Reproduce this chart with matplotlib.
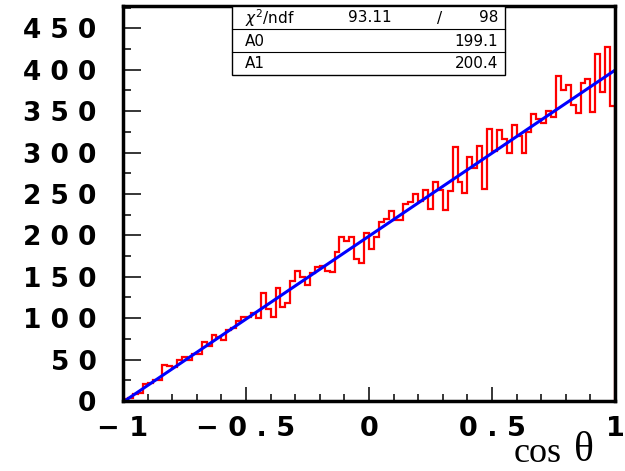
import matplotlib
matplotlib.use("Agg")
import numpy as np
import matplotlib.pyplot as plt
from matplotlib.ticker import MultipleLocator
from matplotlib.patches import Rectangle
from matplotlib.lines import Line2D

# histogram of cos(theta), 100 bins from -1 to 1
x_min, x_max, n_bins = -1.0, 1.0, 100
counts = [
    2, 4, 9, 10, 21, 22, 25, 25, 44, 42,
    41, 50, 53, 50, 57, 57, 71, 67, 80, 77,
    74, 86, 88, 97, 101, 101, 106, 100, 130, 111,
    102, 137, 114, 118, 145, 157, 150, 140, 155, 162,
    163, 157, 156, 180, 198, 193, 198, 172, 167, 203,
    183, 198, 216, 220, 230, 219, 219, 238, 240, 250,
    242, 255, 232, 265, 255, 231, 254, 307, 264, 251,
    295, 281, 308, 256, 328, 302, 327, 316, 300, 333,
    320, 299, 325, 346, 340, 336, 350, 343, 393, 375,
    382, 358, 348, 384, 389, 349, 419, 373, 427, 356,
]

# linear fit result
a0, a1 = 199.1, 200.4
chi2, ndf = 93.11, 98

x_ticks = [-1, -0.5, 0, 0.5, 1]
x_tick_labels = ["-1", "-0.5", "0", "0.5", "1"]
y_ticks = [0, 50, 100, 150, 200, 250, 300, 350, 400, 450]


def spaced(s):
    # wide letter spacing like the old ROOT bold font
    return " ".join(s.replace("-", "\u2212"))


W, H = 625, 471
fig = plt.figure(figsize=(W / 100, H / 100), dpi=100)
ax = fig.add_axes([123 / W, 1 - 401 / H, 492 / W, 395 / H])

edges = np.linspace(x_min, x_max, n_bins + 1)
ax.stairs(counts, edges, baseline=0, color="#ff0000", lw=1.6, zorder=2)
xf = np.array([x_min, x_max])
ax.plot(xf, a0 + a1 * xf, color="#0000ff", lw=2.2, zorder=3)

ax.set_xlim(x_min, x_max)
ax.set_ylim(0, 477)

ax.set_xticks(x_ticks)
ax.set_xticklabels([spaced(s) for s in x_tick_labels],
                   fontsize=19.5, fontweight="bold", family="DejaVu Sans")
ax.set_yticks(y_ticks)
ax.set_yticklabels([spaced(str(v)) for v in y_ticks],
                   fontsize=19, fontweight="bold", family="DejaVu Sans")
ax.xaxis.set_minor_locator(MultipleLocator(0.1))
ax.yaxis.set_minor_locator(MultipleLocator(25))

ax.tick_params(axis="x", which="major", direction="in", length=10, width=1.1, pad=11)
ax.tick_params(axis="x", which="minor", direction="in", length=5, width=1.1)
ax.tick_params(axis="y", which="major", direction="in", length=13, width=1.1, pad=19)
ax.tick_params(axis="y", which="minor", direction="in", length=6, width=1.1)

for side in ["left", "bottom", "right", "top"]:
    ax.spines[side].set_linewidth(2.5)
    ax.spines[side].set_zorder(5)

# x title
fig.text(562 / W, 1 / H, "cos", fontsize=26, family="Liberation Serif",
         ha="right", va="bottom")
fig.text(574 / W, 1 / H, "\u03b8", fontsize=30, family="Liberation Serif",
         ha="left", va="bottom")

# stats box
bx0, bx1, by0, by1 = 232, 505, 6, 75
fig.add_artist(Rectangle((bx0 / W, 1 - by1 / H), (bx1 - bx0) / W, (by1 - by0) / H,
                         transform=fig.transFigure, facecolor="white",
                         edgecolor="black", lw=1, zorder=6))
for yl in [29, 52]:
    fig.add_artist(Line2D([bx0 / W, bx1 / W], [1 - yl / H, 1 - yl / H],
                          transform=fig.transFigure, color="black", lw=0.8, zorder=7))

rows = [
    (r"$\chi^{2}$/ndf", "%.2f" % chi2, "%d" % ndf),
    ("A0", "", "%.1f" % a0),
    ("A1", "", "%.1f" % a1),
]
row_y = [18, 41, 64]
for (name, mid, val), yy in zip(rows, row_y):
    ty = 1 - yy / H
    fig.text(245 / W, ty, name, fontsize=11, ha="left", va="center", zorder=8)
    fig.text(498 / W, ty, val, fontsize=11, ha="right", va="center", zorder=8)
    if mid:
        fig.text(348 / W, ty, mid, fontsize=11, ha="left", va="center", zorder=8)
        fig.text(440 / W, ty, "/", fontsize=11, ha="center", va="center", zorder=8)

fig.savefig("out.png", dpi=100)
